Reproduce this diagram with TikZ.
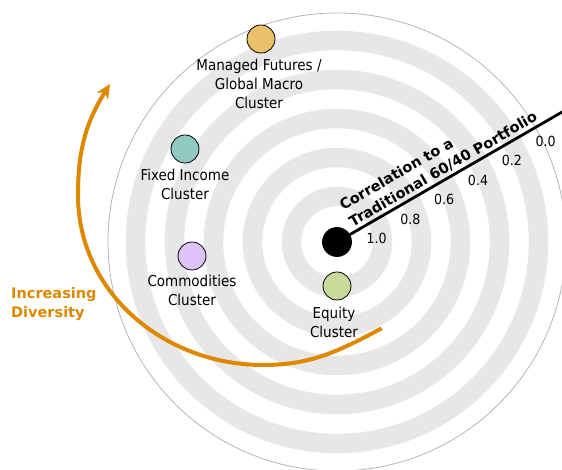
\documentclass[tikz,border=0pt]{standalone}
\usepackage{fontspec}
\setmainfont{DejaVu Sans}
\newfontfamily\condfont{DejaVu Sans Condensed}
\usetikzlibrary{positioning, calc, arrows.meta}
\definecolor{ringgray}{HTML}{E7E7E7}
\definecolor{rimgray}{HTML}{B4B4B4}
\definecolor{divorange}{HTML}{DE8800}
\definecolor{mfcolor}{HTML}{EBC06B}
\definecolor{ficolor}{HTML}{8FC9C1}
\definecolor{comcolor}{HTML}{DDC3F7}
\definecolor{eqcolor}{HTML}{C8DB9B}

\begin{document}
\begin{tikzpicture}[x=1pt, y=1pt]
    \tikzset{dot/.style={circle, draw, line width=0.8pt, minimum size=28pt, inner sep=0pt},
             lbl/.style={align=center, inner sep=0pt, font=\condfont\fontsize{15}{19}\selectfont},
             tick/.style={inner sep=0pt, font=\condfont\fontsize{14}{16}\selectfont}}
    \clip (-337,-228) rectangle (225,242);
    \foreach \r in {45.5, 84.5, 123.5, 162.5, 201.5} \draw[ringgray, line width=19.5pt] (0,0) circle (\r);
    \draw[rimgray, line width=0.8pt] (0,0) circle (229);
    \node[dot, fill=black, minimum size=29pt] (P) at (0,0) {};
    \coordinate (axisend) at (30:300);
    \draw[line width=2.8pt] (P.center) -- (axisend);
    \node[rotate=30, anchor=south west, align=left, inner sep=0pt, font=\bfseries\fontsize{14.5}{19}\selectfont] (T) at ($(30:21)+(120:3.5)$) {Correlation to a\\Traditional 60/40 Portfolio};
    \foreach \r/\v in {36/1.0, 75/0.8, 114/0.6, 153/0.4, 192/0.2, 231/0.0}
        \node[tick] (N\r) at ($(30:\r)+(-60:17)$) {\v};
    \node[dot, fill=mfcolor] (MF) at (-76,203) {};
    \node[dot, fill=ficolor] (FI) at (-152,93) {};
    \node[dot, fill=comcolor] (CO) at (-145,-14) {};
    \node[dot, fill=eqcolor] (EQ) at (0,-44) {};
    \node[lbl, below=6pt of MF, xshift=-2pt] (MFl) {Managed Futures /\\Global Macro\\Cluster};
    \node[lbl, below=6pt of FI] (FIl) {Fixed Income\\Cluster};
    \node[lbl, below=4.5pt of CO] (COl) {Commodities\\Cluster};
    \node[lbl, below=6.5pt of EQ, xshift=-3pt] (EQl) {Equity\\Cluster};
    \node[anchor=north west, align=left, inner sep=0pt, text=divorange, font=\bfseries\fontsize{14.5}{19.5}\selectfont] (ID) at (-326,-45) {Increasing\\Diversity};
    \coordinate (A0) at (44.7,-86.3);
    \coordinate (A1) at (-74,-123);
    \coordinate (A2) at (-259,47);
    \coordinate (A3) at (-227,158);
    \draw[divorange, line width=4pt, -{Stealth[length=14pt, width=13pt, inset=4pt]}] (A0) to[out=208, in=0] (A1) to[out=180, in=-90] (A2) to[out=90, in=238] (A3);
\end{tikzpicture}
\end{document}
